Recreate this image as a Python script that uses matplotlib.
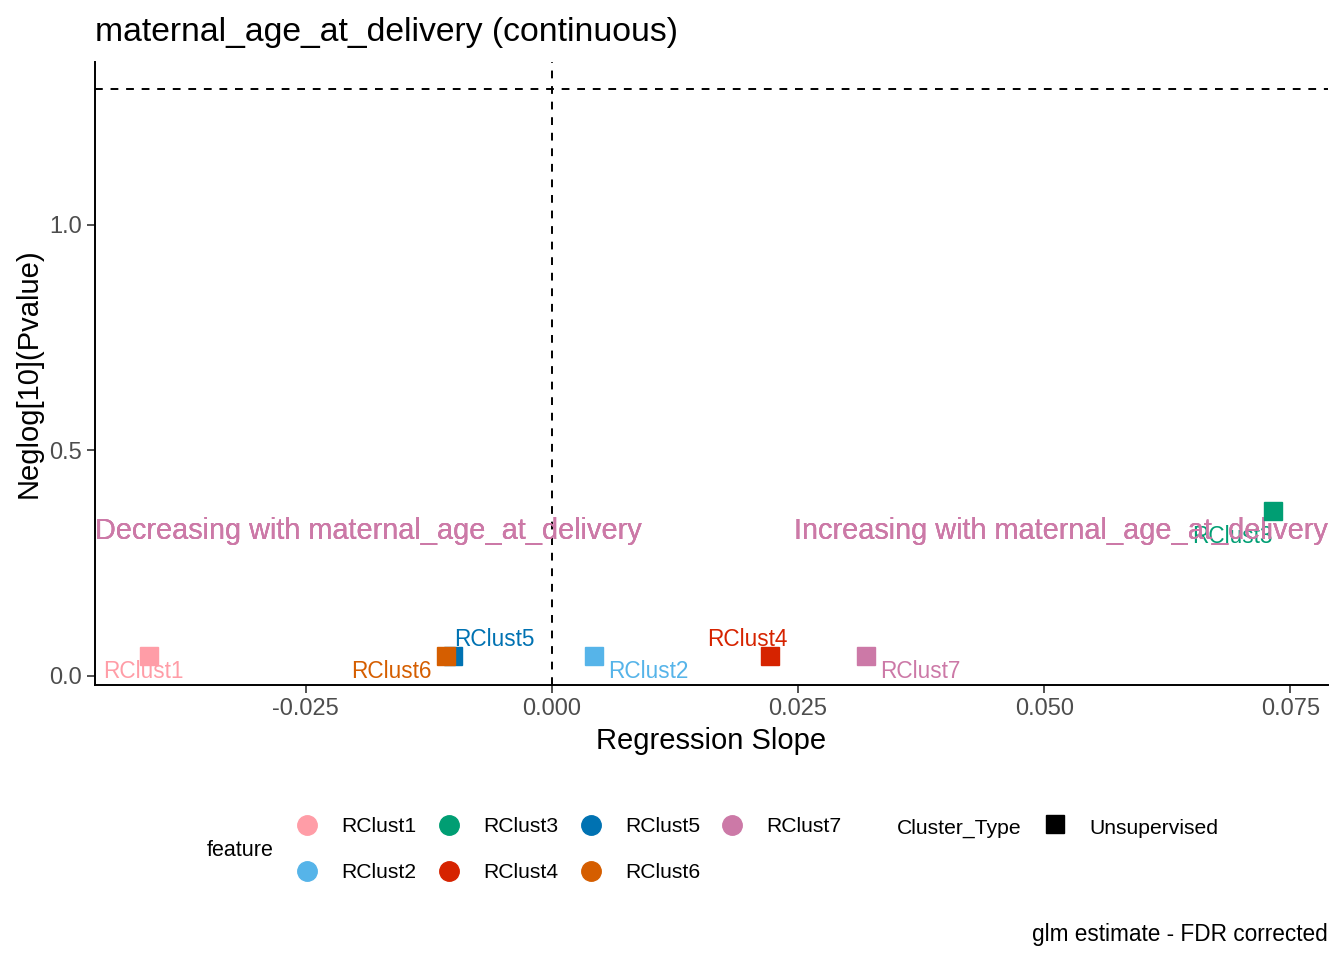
import matplotlib
matplotlib.use("Agg")
import matplotlib.pyplot as plt
from matplotlib.lines import Line2D

plt.rcParams["font.family"] = ["Liberation Sans", "DejaVu Sans"]

# data
features = ["RClust1", "RClust2", "RClust3", "RClust4", "RClust5", "RClust6", "RClust7"]
slopes = [-0.0409, 0.0043, 0.0732, 0.0221, -0.0100, -0.0108, 0.0319]
neglog_p = [0.044, 0.044, 0.366, 0.044, 0.044, 0.044, 0.044]
colors = ["#FF9DA7", "#56B4E9", "#009E73", "#D62300", "#0072B2", "#D55E00", "#CC79A7"]
x_ticks = [-0.025, 0.000, 0.025, 0.050, 0.075]
y_ticks = [0.0, 0.5, 1.0]
threshold = 1.301  # -log10(0.05)

# repel-style label offsets (pixels) and alignment
label_pos = {
    "RClust1": (-6, -15, "center"),
    "RClust2": (14, -15, "left"),
    "RClust3": (-40, -26, "center"),
    "RClust4": (-22, 17, "center"),
    "RClust5": (1, 17, "left"),
    "RClust6": (-14, -15, "right"),
    "RClust7": (14, -15, "left"),
}

fig = plt.figure(figsize=(13.44, 9.6), dpi=100)
ax = fig.add_axes([0.0707, 0.2865, 0.9173, 0.6489])

ax.axvline(0, color="black", linestyle=(0, (4, 4)), linewidth=1.4, zorder=1)
ax.axhline(threshold, color="black", linestyle=(0, (4, 4)), linewidth=1.4, zorder=1)

ann_color = "#CC79A7"
for _ in range(3):
    ax.text(-0.0464, 0.322, "Decreasing with maternal_age_at_delivery", color=ann_color,
            fontsize=20.8, ha="left", va="center", zorder=3)
    ax.text(0.0788, 0.322, "Increasing with maternal_age_at_delivery", color=ann_color,
            fontsize=20.8, ha="right", va="center", zorder=3)

# draw in order so RClust6 sits over RClust5 like the reference
for i in range(len(features)):
    ax.plot(slopes[i], neglog_p[i], marker="s", markersize=13.5, color=colors[i],
            linestyle="none", zorder=4)
# labels sit under the annotation text, as in the reference
for i, name in enumerate(features):
    dx, dy, ha = label_pos[name]
    ax.annotate(name, (slopes[i], neglog_p[i]), xytext=(dx, dy), textcoords="offset pixels",
                color=colors[i], fontsize=16.3, ha=ha, va="center", zorder=2.5)

ax.set_xlim(-0.0464, 0.0788)
ax.set_ylim(-0.02, 1.361)
ax.set_xticks(x_ticks)
ax.set_xticklabels([f"{v:.3f}" for v in x_ticks])
ax.set_yticks(y_ticks)
ax.set_yticklabels([f"{v:.1f}" for v in y_ticks])
ax.tick_params(labelsize=17, labelcolor="#4D4D4D", color="#333333", length=6, width=1.2)
for s in ["top", "right"]:
    ax.spines[s].set_visible(False)
for s in ["left", "bottom"]:
    ax.spines[s].set_linewidth(1.4)

ax.set_xlabel("Regression Slope", fontsize=21, labelpad=5)
ax.set_ylabel("Neglog[10](Pvalue)", fontsize=21, labelpad=5)
fig.text(95 / 1344, 1 - 32 / 960, "maternal_age_at_delivery (continuous)", fontsize=24.3,
         ha="left", va="center")

# legend: feature (2 rows x 4 cols, column-major)
W, H = 1344, 960
fig.text(240 / W, 1 - 851 / H, "feature", fontsize=15.5, ha="center", va="center")
col_x = [307, 449, 591, 732]
row_y = [825, 871]
for i, name in enumerate(features):
    c, r = divmod(i, 2)
    fig.add_artist(Line2D([col_x[c] / W], [1 - row_y[r] / H], marker="o", markersize=14,
                          color=colors[i], linestyle="none", transform=fig.transFigure))
    fig.text((col_x[c] + 34) / W, 1 - (row_y[r] + 2) / H, name, fontsize=15.2,
             ha="left", va="center")

fig.text(897 / W, 1 - 828 / H, "Cluster_Type", fontsize=15.2, ha="left", va="center")
fig.add_artist(Line2D([1055 / W], [1 - 824 / H], marker="s", markersize=13, color="black",
                      linestyle="none", transform=fig.transFigure))
fig.text(1089 / W, 1 - 828 / H, "Unsupervised", fontsize=15.2, ha="left", va="center")

fig.text(1328 / W, 1 - 935 / H, "glm estimate - FDR corrected", fontsize=16.3,
         ha="right", va="center")

fig.savefig("out.png", dpi=100)
